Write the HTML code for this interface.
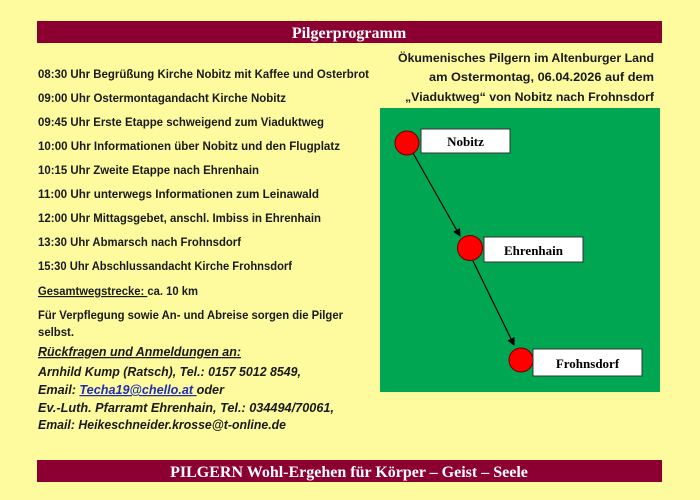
<!DOCTYPE html>
<html><head><meta charset="utf-8"><style>
html,body{margin:0;padding:0;background:#fdfb9e;}
svg{display:block;}
.t{font-family:"Liberation Sans",sans-serif;font-weight:bold;font-size:11.5px;fill:#1a1a1a;}
.i{font-family:"Liberation Sans",sans-serif;font-weight:bold;font-style:italic;font-size:12.5px;fill:#1a1a1a;}
.s{font-family:"Liberation Serif",serif;font-weight:bold;fill:#000;}
</style></head><body>
<svg width="700" height="500" xmlns="http://www.w3.org/2000/svg">
<defs><marker id="a" markerWidth="8" markerHeight="8" refX="7" refY="4" orient="auto" markerUnits="userSpaceOnUse"><path d="M0,0 L8,4 L0,8 z" fill="#000"/></marker></defs>
<rect width="700" height="500" fill="#fdfb9e"/>
<rect x="37" y="21" width="625" height="22" fill="#8b0030"/>
<text x="349" y="38" text-anchor="middle" class="s" font-size="16" style="fill:#fff">Pilgerprogramm</text>
<rect x="37" y="460" width="625" height="22" fill="#8b0030"/>
<text x="349" y="477" text-anchor="middle" class="s" font-size="16" style="fill:#fff">PILGERN Wohl-Ergehen für Körper – Geist – Seele</text>

<g class="t">
<text x="38" y="78" textLength="331" lengthAdjust="spacingAndGlyphs">08:30 Uhr Begrüßung Kirche Nobitz mit Kaffee und Osterbrot</text>
<text x="38" y="102" textLength="248" lengthAdjust="spacingAndGlyphs">09:00 Uhr Ostermontagandacht Kirche Nobitz</text>
<text x="38" y="126" textLength="286" lengthAdjust="spacingAndGlyphs">09:45 Uhr Erste Etappe schweigend zum Viaduktweg</text>
<text x="38" y="150" textLength="302" lengthAdjust="spacingAndGlyphs">10:00 Uhr Informationen über Nobitz und den Flugplatz</text>
<text x="38" y="174" textLength="221" lengthAdjust="spacingAndGlyphs">10:15 Uhr Zweite Etappe nach Ehrenhain</text>
<text x="38" y="198" textLength="281" lengthAdjust="spacingAndGlyphs">11:00 Uhr unterwegs Informationen zum Leinawald</text>
<text x="38" y="222" textLength="283" lengthAdjust="spacingAndGlyphs">12:00 Uhr Mittagsgebet, anschl. Imbiss in Ehrenhain</text>
<text x="38" y="246" textLength="203" lengthAdjust="spacingAndGlyphs">13:30 Uhr Abmarsch nach Frohnsdorf</text>
<text x="38" y="270" textLength="254" lengthAdjust="spacingAndGlyphs">15:30 Uhr Abschlussandacht Kirche Frohnsdorf</text>
<text x="38" y="295" textLength="160" lengthAdjust="spacingAndGlyphs"><tspan text-decoration="underline">Gesamtwegstrecke: </tspan>ca. 10 km</text>
<text x="38" y="319" textLength="305" lengthAdjust="spacingAndGlyphs">Für Verpflegung sowie An- und Abreise sorgen die Pilger</text>
<text x="38" y="336" textLength="36" lengthAdjust="spacingAndGlyphs">selbst.</text>
</g>
<g class="i">
<text x="38" y="356" textLength="203" lengthAdjust="spacingAndGlyphs" text-decoration="underline">Rückfragen und Anmeldungen an:</text>
<text x="38" y="376" textLength="263" lengthAdjust="spacingAndGlyphs">Arnhild Kump (Ratsch), Tel.: 0157 5012 8549,</text>
<text x="38" y="394" textLength="186" lengthAdjust="spacingAndGlyphs">Email: <tspan style="fill:#1f2fb0" text-decoration="underline">Techa19@chello.at </tspan>oder</text>
<text x="38" y="412" textLength="296" lengthAdjust="spacingAndGlyphs">Ev.-Luth. Pfarramt Ehrenhain, Tel.: 034494/70061,</text>
<text x="38" y="429" textLength="248" lengthAdjust="spacingAndGlyphs">Email: Heikeschneider.krosse@t-online.de</text>
</g>
<g class="t" text-anchor="end">
<text x="654" y="62" textLength="256" lengthAdjust="spacingAndGlyphs">Ökumenisches Pilgern im Altenburger Land</text>
<text x="654" y="81" textLength="225" lengthAdjust="spacingAndGlyphs">am Ostermontag, 06.04.2026 auf dem</text>
<text x="654" y="101" textLength="249" lengthAdjust="spacingAndGlyphs">„Viaduktweg“ von Nobitz nach Frohnsdorf</text>
</g>

<rect x="380" y="108" width="280" height="284" fill="#00a651"/>
<line x1="413" y1="153" x2="460" y2="236" stroke="#000" stroke-width="1.2" marker-end="url(#a)"/>
<line x1="473" y1="261" x2="514" y2="345" stroke="#000" stroke-width="1.2" marker-end="url(#a)"/>
<circle cx="407" cy="143" r="12" fill="#f00" stroke="#600" stroke-width="1"/>
<circle cx="470" cy="248" r="12.5" fill="#f00" stroke="#600" stroke-width="1"/>
<circle cx="521" cy="360" r="12" fill="#f00" stroke="#600" stroke-width="1"/>
<rect x="421" y="129" width="89" height="24" fill="#fff" stroke="#333" stroke-width="1"/>
<text x="465.5" y="146" text-anchor="middle" class="s" font-size="13">Nobitz</text>
<rect x="484" y="237" width="99" height="25" fill="#fff" stroke="#333" stroke-width="1"/>
<text x="533.5" y="255" text-anchor="middle" class="s" font-size="13">Ehrenhain</text>
<rect x="533" y="349" width="109" height="27" fill="#fff" stroke="#333" stroke-width="1"/>
<text x="587.5" y="368" text-anchor="middle" class="s" font-size="13">Frohnsdorf</text>
</svg>
</body></html>
